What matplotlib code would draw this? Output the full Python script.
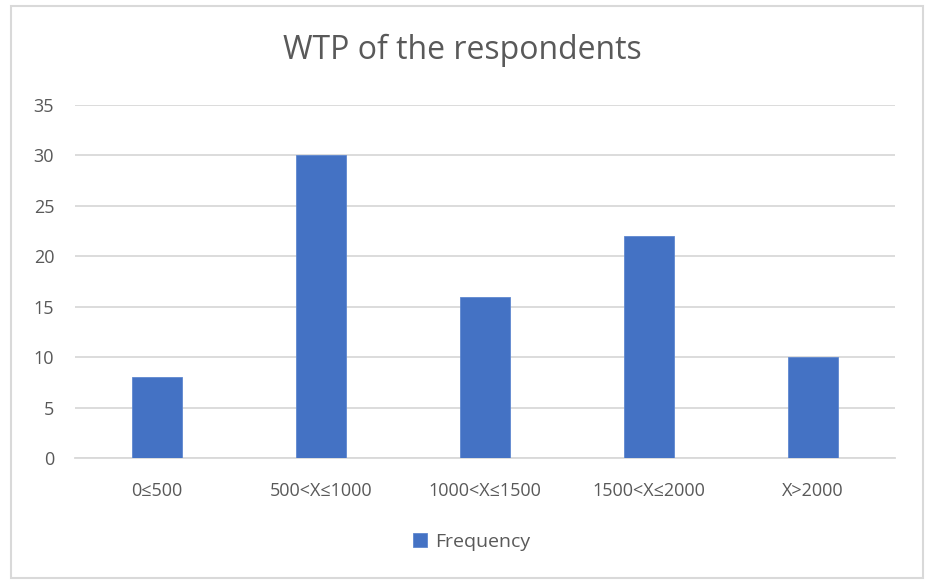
# plot.py
# bar chart of WTP of the respondents (frequency per range)

import matplotlib.pyplot as plt
from matplotlib.patches import Rectangle

# data
categories = ['0≤500', '500<X≤1000', '1000<X≤1500', '1500<X≤2000', 'X>2000']
frequency = [8, 30, 16, 22, 10]

plt.rcParams['font.family'] = ['Open Sans', 'DejaVu Sans']

fig = plt.figure(figsize=(9.25, 5.8), dpi=100)
ax = fig.add_axes([0.0811, 0.2103, 0.8865, 0.6086])

# bars
ax.bar(range(len(categories)), frequency, width=0.31, color='#4472C4',
       edgecolor='#5f88d0', linewidth=0.6, label='Frequency', zorder=3)

ax.set_xlim(-0.5, len(categories) - 0.5)
ax.set_ylim(0, 35)
ax.set_yticks(range(0, 36, 5))
ax.set_xticks(range(len(categories)))
ax.set_xticklabels(categories)

# grid lines like excel
ax.yaxis.grid(True, color='#d9d9d9', linewidth=1.3, zorder=0)
for s in ['top', 'right', 'left']:
    ax.spines[s].set_visible(False)
ax.spines['bottom'].set_color('#d9d9d9')
ax.spines['bottom'].set_linewidth(1.3)
ax.tick_params(axis='both', length=0, colors='#595959', labelsize=13)
ax.tick_params(axis='y', pad=15)
ax.tick_params(axis='x', pad=17)

fig.suptitle('WTP of the respondents', fontsize=23, color='#595959',
             y=0.913, va='center')

# legend at the bottom
fig.legend(loc='center', bbox_to_anchor=(0.51, 0.066), frameon=False,
           fontsize=14, labelcolor='#595959', handlelength=0.7,
           handleheight=0.7, handletextpad=0.4)

# light grey border round the chart
fig.patches.append(Rectangle((11 / 925, 2 / 580), 912 / 925, 572 / 580,
                             transform=fig.transFigure, fill=False,
                             edgecolor='#d9d9d9', linewidth=1.5))

plt.savefig('out.png', dpi=100)
